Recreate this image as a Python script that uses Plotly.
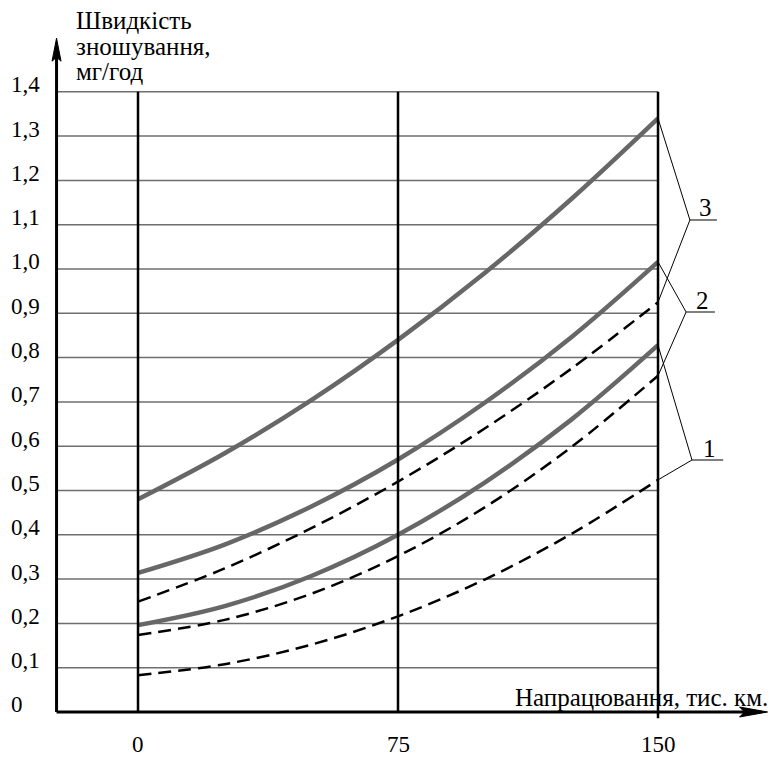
import plotly.graph_objects as go

# ---------------- data ----------------
mileage = [0, 25, 50, 75, 100, 125, 150]  # тис. км

curve3_solid = [0.480, 0.584, 0.704, 0.840, 0.991, 1.158, 1.340]
curve3_dash = [0.249, 0.324, 0.415, 0.520, 0.640, 0.775, 0.925]
curve2_solid = [0.314, 0.378, 0.464, 0.570, 0.698, 0.846, 1.016]
curve2_dash = [0.174, 0.208, 0.267, 0.352, 0.462, 0.598, 0.759]
curve1_solid = [0.196, 0.239, 0.307, 0.400, 0.518, 0.660, 0.828]
curve1_dash = [0.083, 0.108, 0.152, 0.216, 0.299, 0.402, 0.524]

y_ticks = [0, 0.1, 0.2, 0.3, 0.4, 0.5, 0.6, 0.7, 0.8, 0.9, 1.0, 1.1, 1.2, 1.3, 1.4]
y_tick_labels = ["0", "0,1", "0,2", "0,3", "0,4", "0,5", "0,6", "0,7",
                 "0,8", "0,9", "1,0", "1,1", "1,2", "1,3", "1,4"]
x_ticks = [0, 75, 150]
x_tick_labels = ["0", "75", "150"]

curve_names = ["3", "2", "1"]
y_title_lines = ["Швидкість", "зношування,", "мг/год"]
x_title = "Напрацювання, тис. км."

# ---------------- layout constants ----------------
W, H = 772, 757
FONT = "Liberation Serif"
TICK_FS = 23
TITLE_FS = 25
X_RANGE = [-39.81, 182.88]
Y_RANGE = [-0.1016, 1.6072]
AXIS_X = -23.5       # position of the vertical (y) axis in x units
Y_ARROW_TIP = 1.521
X_ARROW_TIP = 181.6
SOLID_COLOR = "#676767"
GRID_COLOR = "#6e6e6e"

fig = go.Figure()

series = [
    (curve3_solid, "solid"), (curve2_solid, "solid"), (curve1_solid, "solid"),
    (curve3_dash, "dash"), (curve2_dash, "dash"), (curve1_dash, "dash"),
]
for ys, kind in series:
    if kind == "solid":
        line = dict(color=SOLID_COLOR, width=4.5, shape="spline")
    else:
        line = dict(color="black", width=2.5, dash="13px,7px", shape="spline")
    fig.add_trace(go.Scatter(x=mileage, y=ys, mode="lines", line=line,
                             hoverinfo="skip", showlegend=False))

shapes = []
# horizontal grid lines
for t in y_ticks[1:]:
    shapes.append(dict(type="line", xref="x", yref="y", x0=AXIS_X, x1=x_ticks[-1],
                       y0=t, y1=t, line=dict(color=GRID_COLOR, width=1.5), layer="below"))
# vertical lines at x ticks
for i, t in enumerate(x_ticks):
    shapes.append(dict(type="line", xref="x", yref="y", x0=t, x1=t,
                       y0=(-0.014 if i == len(x_ticks) - 1 else 0), y1=y_ticks[-1],
                       line=dict(color="black", width=2.5), layer="above"))
# axes
shapes.append(dict(type="line", xref="x", yref="y", x0=AXIS_X, x1=AXIS_X,
                   y0=0, y1=Y_ARROW_TIP - 0.03, line=dict(color="black", width=3), layer="above"))
shapes.append(dict(type="line", xref="x", yref="y", x0=AXIS_X, x1=X_ARROW_TIP - 5,
                   y0=0, y1=0, line=dict(color="black", width=3), layer="above"))
# arrow heads (pixel-sized paths)
shapes.append(dict(type="path", xref="x", yref="y", xsizemode="pixel", ysizemode="pixel",
                   xanchor=AXIS_X, yanchor=Y_ARROW_TIP,
                   path="M0,0 L-4.5,-23 L0,-19 L4.5,-23 Z",
                   fillcolor="black", line=dict(color="black", width=1), layer="above"))
shapes.append(dict(type="path", xref="x", yref="y", xsizemode="pixel", ysizemode="pixel",
                   xanchor=X_ARROW_TIP, yanchor=0,
                   path="M0,0 L-28,-5 L-23,0 L-28,5 Z",
                   fillcolor="black", line=dict(color="black", width=1), layer="above"))

# leader lines for curve labels
leaders = [
    (curve_names[0], curve3_solid[-1], curve3_dash[-1], 159.2, 1.1106, 167.0),
    (curve_names[1], curve2_solid[-1], curve2_dash[-1], 158.1, 0.9029, 166.4),
    (curve_names[2], curve1_solid[-1], curve1_dash[-1], 159.8, 0.5688, 168.8),
]
annotations = []
for name, ys, yd, vx, vy, ex in leaders:
    xe = mileage[-1]
    shapes.append(dict(type="path", xref="x", yref="y",
                       path=f"M{xe},{ys} L{vx},{vy} L{xe},{yd}",
                       line=dict(color="black", width=1), layer="above"))
    shapes.append(dict(type="line", xref="x", yref="y", x0=vx, x1=ex, y0=vy, y1=vy,
                       line=dict(color="black", width=1), layer="above"))
    annotations.append(dict(x=(vx + ex) / 2 + 0.5, y=vy, xref="x", yref="y", text=name,
                            showarrow=False, yshift=12, yanchor="middle",
                            font=dict(family=FONT, size=TITLE_FS, color="black")))

# y tick labels
for t, lab in zip(y_ticks, y_tick_labels):
    annotations.append(dict(x=9 / W, y=t, xref="paper", yref="y", text=lab,
                            showarrow=False, xanchor="left", yanchor="middle", yshift=7,
                            font=dict(family=FONT, size=TICK_FS, color="black")))
# x tick labels
for t, lab in zip(x_ticks, x_tick_labels):
    annotations.append(dict(x=t, y=1 - 744 / H, xref="x", yref="paper",
                            text=lab, showarrow=False, xanchor="center", yanchor="middle",
                            font=dict(family=FONT, size=TICK_FS, color="black")))
# y axis title (three lines, tight spacing)
for i, txt in enumerate(y_title_lines):
    annotations.append(dict(x=74 / W, y=1 - (21 + 25 * i) / H, xref="paper", yref="paper",
                            text=txt, showarrow=False, xanchor="left", yanchor="middle",
                            font=dict(family=FONT, size=TITLE_FS, color="black")))
# x axis title
annotations.append(dict(x=770 / W, y=1 - 697 / H, xref="paper", yref="paper", text=x_title,
                        showarrow=False, xanchor="right", yanchor="middle",
                        font=dict(family=FONT, size=TITLE_FS, color="black")))

fig.update_layout(
    width=W, height=H,
    margin=dict(l=0, r=0, t=0, b=0),
    paper_bgcolor="white", plot_bgcolor="white",
    xaxis=dict(range=X_RANGE, visible=False, fixedrange=True),
    yaxis=dict(range=Y_RANGE, visible=False, fixedrange=True),
    shapes=shapes, annotations=annotations,
    font=dict(family=FONT, size=TICK_FS, color="black"),
)

fig.write_html(
    "out.html",
    config={"displayModeBar": False},
    post_script="document.body.style.margin='0';document.body.style.overflow='hidden';",
)
